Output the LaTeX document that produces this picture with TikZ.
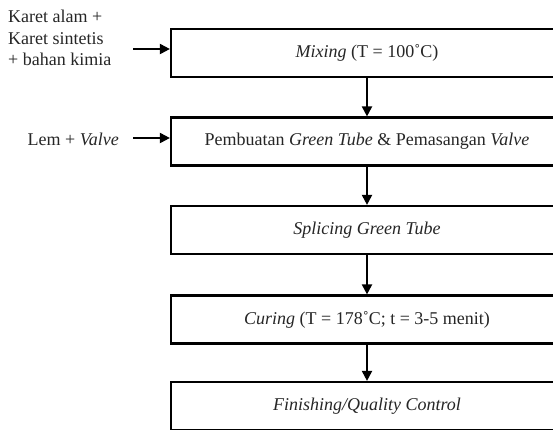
\documentclass[tikz,border=0pt]{standalone}
\usepackage{fontspec}
\setmainfont{Liberation Serif}
\usetikzlibrary{arrows.meta}
\begin{document}
\begin{tikzpicture}[x=1pt,y=-1pt,
  procbox/.style={draw=black, line width=2.2pt, minimum width=392pt, minimum height=48pt, inner sep=0pt, font=\fontsize{18}{21.5}\selectfont, text=black!85},
  flow/.style={line width=2pt, draw=black, -{Triangle[length=10pt,width=10pt]}},
  lbl/.style={inner sep=0pt, font=\fontsize{18}{21.5}\selectfont, text=black!85}]
\useasboundingbox[fill=white] (0,0) rectangle (553,429);
\node[procbox] (b1) at (367,53) {\textit{Mixing} (T = 100˚C)};
\node[procbox] (b2) at (367,141.5) {Pembuatan \textit{Green Tube} \& Pemasangan \textit{Valve}};
\node[procbox] (b3) at (367,230) {\textit{Splicing Green Tube}};
\node[procbox] (b4) at (367,319.5) {\textit{Curing} (T = 178˚C; t = 3-5 menit)};
\node[procbox] (b5) at (367,406) {\textit{Finishing/Quality Control}};
\draw[flow] (b1.south) -- (b2.north);
\draw[flow] (b2.south) -- (b3.north);
\draw[flow] (b3.south) -- (b4.north);
\draw[flow] (b4.south) -- (b5.north);
\node[lbl, align=left, anchor=north west] (in1) at (8,10) {Karet alam +\\Karet sintetis\\+ bahan kimia};
\coordinate (s1) at (133,49);
\draw[flow] (s1) -- (s1 -| b1.west);
\node[lbl, anchor=base east] (in2) at (119,145) {Lem + \textit{Valve}};
\coordinate (s2) at (133,138);
\draw[flow] (s2) -- (s2 -| b2.west);
\end{tikzpicture}
\end{document}
